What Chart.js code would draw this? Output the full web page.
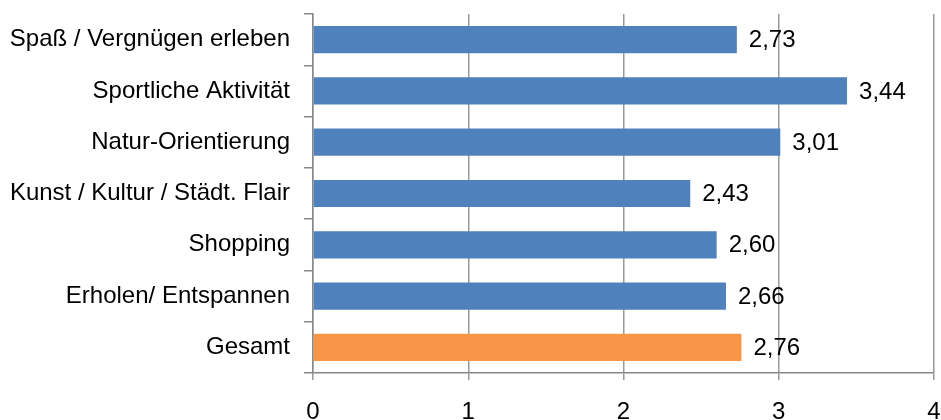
<!DOCTYPE html>
<html>
<head>
<meta charset="utf-8">
<script src="https://cdn.jsdelivr.net/npm/chart.js@4/dist/chart.umd.min.js"></script>
<style>
  html, body { margin: 0; padding: 0; background: #fff; }
  #wrap { width: 941px; height: 420px; }
</style>
</head>
<body>
<div id="wrap"><canvas id="motiveChart" width="941" height="420"></canvas></div>
<script>
// Motive – Mittelwerte
const categories = [
    'Spaß / Vergnügen erleben',
    'Sportliche Aktivität',
    'Natur-Orientierung',
    'Kunst / Kultur / Städt. Flair',
    'Shopping',
    'Erholen/ Entspannen',
    'Gesamt'
];
const values = [2.73, 3.44, 3.01, 2.43, 2.60, 2.66, 2.76];
const xTicks = [0, 1, 2, 3, 4];

const blau = '#4F81BD';
const orange = '#F79646';
const barColors = categories.map(c => c === 'Gesamt' ? orange : blau);
const schrift = '"Liberation Sans", Arial, sans-serif';

// Werte rechts neben die Balken schreiben (Komma als Dezimaltrenner)
const valueLabels = {
    id: 'valueLabels',
    afterDatasetsDraw(chart) {
        const ctx = chart.ctx;
        const meta = chart.getDatasetMeta(0);
        ctx.save();
        ctx.font = '24px ' + schrift;
        ctx.fillStyle = '#000';
        ctx.textAlign = 'left';
        ctx.textBaseline = 'middle';
        meta.data.forEach((bar, i) => {
            const txt = values[i].toFixed(2).replace('.', ',');
            ctx.fillText(txt, bar.x + 12, bar.y + 1);
        });
        ctx.restore();
    }
};

const ctx = document.getElementById('motiveChart').getContext('2d');
new Chart(ctx, {
    type: 'bar',
    data: {
        labels: categories,
        datasets: [{
            data: values,
            backgroundColor: barColors,
            borderWidth: 0,
            categoryPercentage: 0.53,
            barPercentage: 1.0
        }]
    },
    options: {
        indexAxis: 'y',
        responsive: false,
        animation: false,
        layout: { padding: { top: 14, right: 7, left: 0, bottom: 0 } },
        plugins: {
            legend: { display: false },
            tooltip: { enabled: false }
        },
        scales: {
            x: {
                min: 0,
                max: 4,
                afterBuildTicks(scale) {
                    scale.ticks = xTicks.map(v => ({ value: v }));
                },
                afterFit(scale) {
                    scale.height = 47;
                    scale.paddingLeft = 0;
                    scale.paddingRight = 0;
                },
                grid: {
                    color: '#999',
                    lineWidth: 1.5,
                    tickLength: 7,
                    drawTicks: true
                },
                border: { color: '#888', width: 1.5 },
                ticks: {
                    color: '#000',
                    padding: 18,
                    maxRotation: 0,
                    font: { family: schrift, size: 24 },
                    callback: v => String(v)
                }
            },
            y: {
                afterFit(scale) {
                    scale.width = 313;
                    scale.paddingTop = 0;
                    scale.paddingBottom = 0;
                },
                grid: {
                    drawOnChartArea: false,
                    drawTicks: true,
                    tickLength: 9,
                    color: '#888',
                    lineWidth: 1.5
                },
                border: { color: '#888', width: 1.5 },
                ticks: {
                    color: '#000',
                    padding: 14,
                    font: { family: schrift, size: 24 }
                }
            }
        }
    },
    plugins: [valueLabels]
});
</script>
</body>
</html>
